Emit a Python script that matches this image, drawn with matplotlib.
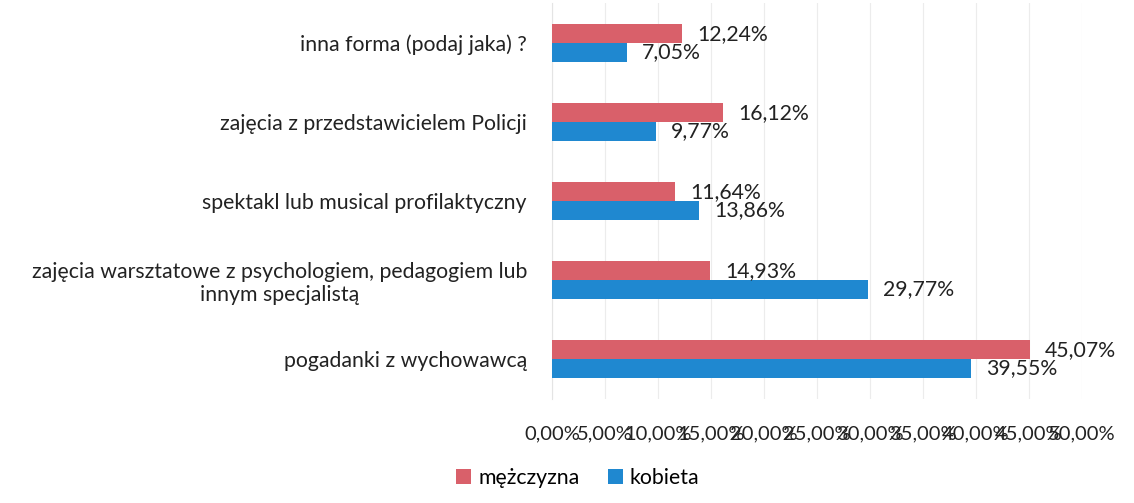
import matplotlib
matplotlib.use("Agg")
import matplotlib.pyplot as plt
import numpy as np
from matplotlib.ticker import FuncFormatter

plt.rcParams['font.family'] = ['Lato', 'DejaVu Sans']

categories = [
    "pogadanki z wychowawcą",
    "zajęcia warsztatowe z psychologiem, pedagogiem lub\ninnym specjalistą",
    "spektakl lub musical profilaktyczny",
    "zajęcia z przedstawicielem Policji",
    "inna forma (podaj jaka) ?",
]
mezczyzna = [45.07, 14.93, 11.64, 16.12, 12.24]
kobieta = [39.55, 29.77, 13.86, 9.77, 7.05]
series_names = ["mężczyzna", "kobieta"]
xticks = [0, 5, 10, 15, 20, 25, 30, 35, 40, 45, 50]

red = "#D9606A"
blue = "#1F88D0"

fig = plt.figure(figsize=(11.34, 5.03), dpi=100)
ax = fig.add_axes([552/1134, (503-398.5)/503, 530/1134, 395/503])

y = np.arange(len(categories))
h = 0.235
b1 = ax.barh(y + h/2, mezczyzna, height=h, color=red, label=series_names[0], zorder=3)
b2 = ax.barh(y - h/2, kobieta, height=h, color=blue, label=series_names[1], zorder=3)

fmt = lambda v: f"{v:.2f}".replace(".", ",") + "%"
fs = 15.3
ax.bar_label(b1, labels=[fmt(v) for v in mezczyzna], padding=11, fontsize=fs, color="#222222")
ax.bar_label(b2, labels=[fmt(v) for v in kobieta], padding=11, fontsize=fs, color="#222222")

ax.set_xlim(0, 50)
ax.set_ylim(-0.5, len(categories) - 0.5)
ax.set_xticks(xticks)
ax.xaxis.set_major_formatter(FuncFormatter(lambda v, p: f"{v:.2f}".replace(".", ",") + "%"))
ax.set_yticks(y)
ax.set_yticklabels(categories, ha="right", multialignment="center")
ax.tick_params(axis="y", length=0, pad=18, labelsize=fs, colors="#222222")
ax.tick_params(axis="x", length=0, pad=19, labelsize=14.5, colors="#222222")
ax.grid(axis="x", color="#ECECEC", linewidth=0.8, zorder=0)
for s in ["top", "right", "bottom"]:
    ax.spines[s].set_visible(False)
ax.spines["left"].set_color("#E4E4E4")

handles = [b1, b2]
fig.legend(handles, series_names, loc="center", bbox_to_anchor=(578/1134, 1 - 478/503),
           ncol=2, frameon=False, fontsize=fs, handlelength=0.7, handleheight=0.7,
           handletextpad=0.35, columnspacing=1.3)

fig.savefig("out.png", dpi=100)
